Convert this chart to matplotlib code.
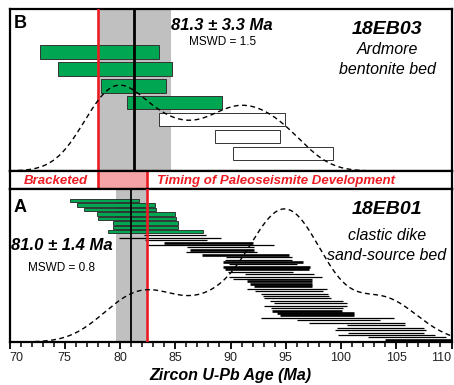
import numpy as np
import matplotlib
matplotlib.use("Agg")
import matplotlib.pyplot as plt
from matplotlib.ticker import MultipleLocator

plt.rcParams['font.family'] = ['Liberation Sans', 'DejaVu Sans']

W, H = 454, 385

# 18EB03 (panel B): grain ages, lower / upper ends of the 2-sigma bars (Ma)
b_lo = [72.8, 74.4, 78.3, 80.6, 83.5, 88.6, 90.2]
b_hi = [83.5, 84.7, 84.2, 89.2, 94.9, 94.5, 99.3]
b_used = [True, True, True, True, False, False, False]
b_mean, b_err, b_mswd = 81.3, 3.3, 1.5

# 18EB01 (panel A): youngest grains used in the weighted mean
a_green_lo = [75.45, 76.15, 76.7, 77.9, 78.0, 79.4, 79.4, 78.9]
a_green_hi = [81.75, 83.2, 83.3, 85.0, 85.1, 85.25, 85.25, 87.5]
# remaining detrital grains
a_lo = [82.2, 79.9, 82.3, 84.0, 82.5, 86.1, 86.3, 86.0, 87.4, 89.55, 89.5, 89.3,
        89.9, 89.3, 89.5, 89.8, 91.3, 89.9, 90.2, 91.5, 91.8, 92.1, 91.5, 92.2,
        92.8, 92.9, 93.0, 93.6, 93.9, 93.0, 93.7, 93.8, 94.2, 94.5, 92.8, 96.0,
        97.1, 100.5, 99.6, 99.5, 100.6, 99.7, 102.4, 104.0]
a_hi = [87.8, 89.1, 87.9, 92.0, 93.9, 92.1, 92.1, 92.4, 95.3, 95.6, 95.6, 96.6,
        96.0, 97.2, 97.1, 95.7, 97.6, 98.3, 97.4, 97.4, 97.4, 97.4, 98.7, 98.4,
        98.8, 98.9, 99.1, 100.2, 100.5, 100.5, 100.2, 100.1, 101.2, 101.2, 104.8, 103.5,
        105.8, 105.8, 107.5, 107.7, 107.5, 108.5, 109.5, 110.0]
a_bold = [0, 0, 0, 1, 0, 0, 1, 0, 1, 0, 0, 1,
          0, 1, 1, 0, 0, 0, 0, 1, 1, 1, 0, 0,
          0, 0, 0, 0, 0, 0, 0, 1, 1, 1, 0, 0,
          0, 0, 0, 0, 0, 0, 0, 1]
a_mean, a_err, a_mswd = 81.0, 1.4, 0.8

age_ticks = [70, 75, 80, 85, 90, 95, 100, 105, 110]

green = '#00a651'
red = '#ed1c24'
gray = '#c0c0c0'
pink = '#f5a3a6'


def kde(lo, hi, t, bw=2.5):
    c = (np.asarray(lo) + np.asarray(hi)) / 2
    return np.exp(-0.5 * ((t[:, None] - c) / bw) ** 2).sum(axis=1)


fig = plt.figure(figsize=(W / 100, H / 100), dpi=100)
left, right = 9.5 / W, 451.5 / W


def box(top, bot):
    return [left, 1 - bot / H, right - left, (bot - top) / H]


ax_b = fig.add_axes(box(9, 171))
ax_s = fig.add_axes(box(171, 189))
ax_a = fig.add_axes(box(189, 342))

for ax in (ax_b, ax_s, ax_a):
    ax.set_xlim(70, 110)
    for sp in ax.spines.values():
        sp.set_linewidth(1.6)
    ax.set_yticks([])
ax_b.tick_params(bottom=False, labelbottom=False)
ax_s.tick_params(bottom=False, labelbottom=False)

t = np.linspace(70, 110, 400)
dash = (0, (3.5, 2.5))

# ---- panel B ----
ax_b.set_ylim(7.04, -2.54)
ax_b.axvspan(b_mean - b_err, b_mean + b_err, color=gray, lw=0, zorder=0)
rows = np.arange(len(b_lo))
ax_b.barh(rows, np.array(b_hi) - np.array(b_lo), left=b_lo, height=0.8,
          color=[green if u else 'white' for u in b_used],
          edgecolor='#333333', linewidth=0.7, zorder=2)
ax_b.axvline(b_mean, color='black', lw=2.0, zorder=4)
ax_b.axvline(b_mean - b_err, color=red, lw=1.9, zorder=4)
cb = ax_b.twinx()
yb = kde(b_lo, b_hi, t)
cb.plot(t, yb, color='black', lw=1.0, ls=dash)
cb.set_ylim(0, yb.max() / 0.53)
cb.axis('off')

# ---- bracket strip ----
ax_s.set_ylim(0, 1)
ax_s.axvspan(b_mean - b_err, a_mean + a_err, color=pink, lw=0)
ax_s.axvline(b_mean - b_err, color=red, lw=1.9)
ax_s.axvline(a_mean + a_err, color=red, lw=1.9)
ax_s.text(74.2, 0.45, 'Bracketed', color=red, fontsize=9.5, fontweight='bold',
          fontstyle='italic', ha='center', va='center')
ax_s.text(94.1, 0.45, 'Timing of Paleoseismite Development', color=red, fontsize=9.5,
          fontweight='bold', fontstyle='italic', ha='center', va='center')

# ---- panel A ----
ax_a.set_ylim(153, 0)
ax_a.axvspan(a_mean - a_err, a_mean + a_err, color=gray, lw=0, zorder=0)
gy = 11.7 + 4.43 * np.arange(len(a_green_lo))
ax_a.barh(gy, np.array(a_green_hi) - np.array(a_green_lo), left=a_green_lo, height=3.4,
          color=green, edgecolor='#222222', linewidth=0.6, zorder=2)
ky = 46.3 + 2.43 * np.arange(len(a_lo))
for y, lo, hi, bold in zip(ky, a_lo, a_hi, a_bold):
    ax_a.plot([lo, hi], [y, y], color='black', lw=1.9 if bold else 0.9,
              solid_capstyle='butt', zorder=2)
ax_a.axvline(a_mean, color='black', lw=1.3, zorder=4)
ax_a.axvline(a_mean + a_err, color=red, lw=1.9, zorder=4)
ca = ax_a.twinx()
ya = kde(a_green_lo + a_lo, a_green_hi + a_hi, t)
ca.plot(t, ya, color='black', lw=1.0, ls=dash)
ca.set_ylim(0, ya.max() / 0.87)
ca.axis('off')

ax_a.set_xticks(age_ticks)
ax_a.set_xticklabels([str(a) for a in age_ticks])
ax_a.xaxis.set_minor_locator(MultipleLocator(1))
ax_a.tick_params(axis='x', which='major', direction='out', length=5, width=1.3,
                 labelsize=9, pad=2, labelcolor='#222222')
ax_a.tick_params(axis='x', which='minor', direction='out', length=3.3, width=1.1)
labels = ax_a.get_xticklabels()
labels[0].set_horizontalalignment('left')
labels[-1].set_horizontalalignment('right')
ax_a.set_xlabel('Zircon U-Pb Age (Ma)', fontsize=11.5, fontweight='bold',
                fontstyle='italic', labelpad=3)


def ftxt(x, y, s, **kw):
    fig.text(x / W, 1 - y / H, s, ha='center', va='center', **kw)


bi = dict(fontweight='bold', fontstyle='italic')
ftxt(20, 23, 'B', fontsize=13, fontweight='bold')
ftxt(222, 25, f'{b_mean} ± {b_err} Ma', fontsize=12, **bi)
ftxt(222.5, 42, f'MSWD = {b_mswd}', fontsize=8.5)
ftxt(387, 30, '18EB03', fontsize=14, **bi)
ftxt(387, 50, 'Ardmore', fontsize=11.5, fontstyle='italic')
ftxt(387, 70, 'bentonite bed', fontsize=11.5, fontstyle='italic')

ftxt(20, 208, 'A', fontsize=13, fontweight='bold')
ftxt(61.5, 246, f'{a_mean} ± {a_err} Ma', fontsize=12, **bi)
ftxt(62, 268, f'MSWD = {a_mswd}', fontsize=8.5)
ftxt(387, 210, '18EB01', fontsize=14, **bi)
ftxt(387, 236, 'clastic dike', fontsize=11.5, fontstyle='italic')
ftxt(387, 256, 'sand-source bed', fontsize=11.5, fontstyle='italic')

fig.savefig('out.png', dpi=100)
